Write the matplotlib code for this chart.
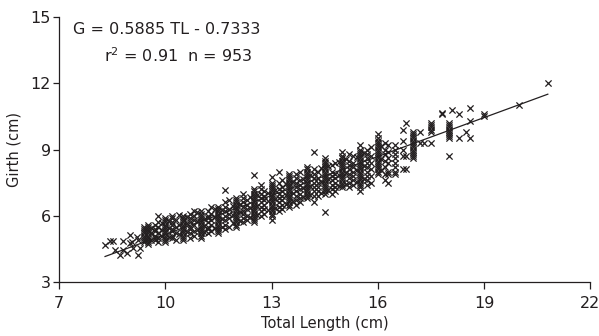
import matplotlib
matplotlib.use("Agg")
import matplotlib.pyplot as plt

# sparse small fish (length, girth)
small_tl = [8.3, 8.45, 8.53, 8.8, 9.0, 9.05, 9.24, 8.72, 8.93, 9.24, 9.29, 9.1, 8.82, 8.58, 9.0, 9.2]
small_g = [4.68, 4.85, 4.87, 4.87, 5.13, 4.83, 4.9, 4.22, 4.3, 4.22, 4.52, 4.52, 4.45, 4.45, 4.75, 5.05]

# lengths were mostly read to the half cm, so the points stack up in columns
col_tl = [9.4, 9.5, 9.6, 9.7, 9.8, 9.9, 10.0, 10.1, 10.2, 10.3, 10.4, 10.5, 10.6, 10.7, 10.8, 10.9,
          11.0, 11.1, 11.2, 11.3, 11.4, 11.5, 11.6, 11.7, 11.8, 11.9, 12.0, 12.1, 12.2, 12.3, 12.4, 12.5,
          12.6, 12.7, 12.8, 12.9, 13.0, 13.1, 13.2, 13.3, 13.4, 13.5, 13.6, 13.7, 13.8, 13.9, 14.0, 14.1, 14.2,
          14.3, 14.4, 14.5, 14.6, 14.7, 14.8, 14.9, 15.0, 15.1, 15.2, 15.3, 15.4, 15.5, 15.6, 15.7, 15.8,
          16.0, 16.1, 16.2, 16.3, 16.5, 16.7, 16.8, 17.0, 17.2, 17.3, 17.5,
          17.8, 18.0, 18.1, 18.3, 18.5, 18.6, 19.0, 20.0, 20.8]
col_g = [
    [4.8, 4.9, 5.0, 5.1, 5.2, 5.3, 5.4, 5.5],
    [4.7, 4.8, 4.9, 5.0, 5.1, 5.2, 5.3, 5.4, 5.5, 5.6],
    [4.9, 5.2, 5.45],
    [4.9, 5.0, 5.1, 5.3, 5.4, 5.6],
    [4.8, 5.0, 5.2, 5.5, 5.7, 6.0],
    [5.1, 5.35, 5.65],
    [4.8, 4.9, 5.0, 5.1, 5.2, 5.3, 5.4, 5.5, 5.6, 5.7, 5.8, 5.9],
    [5.05, 5.45, 5.75],
    [5.0, 5.1, 5.3, 5.4, 5.6, 5.7, 5.9, 6.0],
    [4.9, 5.2, 5.5, 5.8],
    [5.15, 5.6, 6.05],
    [4.9, 5.0, 5.1, 5.2, 5.3, 5.4, 5.5, 5.6, 5.7, 5.8, 5.9, 6.0],
    [5.25, 5.65, 5.95],
    [5.0, 5.2, 5.4, 5.5, 5.7, 5.9, 6.1],
    [5.1, 5.3, 5.6, 5.8, 6.0, 6.2],
    [5.35, 5.75, 6.15],
    [5.0, 5.1, 5.2, 5.3, 5.4, 5.5, 5.6, 5.7, 5.8, 5.9, 6.0, 6.1, 6.2],
    [5.25, 5.55, 5.85],
    [5.2, 5.4, 5.5, 5.7, 5.9, 6.0, 6.2],
    [5.3, 5.6, 5.8, 6.1, 6.4],
    [5.45, 5.95, 6.3],
    [5.2, 5.3, 5.4, 5.5, 5.6, 5.7, 5.8, 5.9, 6.0, 6.1, 6.2, 6.3, 6.4],
    [5.5, 5.85, 6.25],
    [5.4, 5.6, 5.8, 6.0, 6.2, 6.4, 6.6, 7.17],
    [5.5, 5.9, 6.1, 6.3, 6.7],
    [5.65, 6.05, 6.45],
    [5.5, 5.6, 5.7, 5.8, 5.9, 6.0, 6.1, 6.2, 6.3, 6.4, 6.5, 6.6, 6.7, 6.8],
    [5.75, 6.15, 6.55],
    [5.7, 5.9, 6.1, 6.2, 6.4, 6.6, 6.8, 7.0],
    [5.8, 6.0, 6.3, 6.5, 6.7],
    [5.95, 6.35, 6.85],
    [5.7, 5.8, 5.9, 6.0, 6.1, 6.2, 6.3, 6.4, 6.5, 6.6, 6.7, 6.8, 6.9, 7.0, 7.1, 7.2, 7.85],
    [6.05, 6.45, 6.95],
    [6.0, 6.2, 6.4, 6.6, 6.8, 7.0, 7.2, 7.4],
    [6.1, 6.3, 6.5, 6.7, 6.9, 7.1],
    [6.25, 6.65, 7.05],
    [5.8, 6.0, 6.1, 6.2, 6.3, 6.4, 6.5, 6.6, 6.7, 6.8, 6.9, 7.0, 7.1, 7.2, 7.3, 7.4, 7.5, 7.77],
    [6.35, 6.75, 7.15],
    [6.2, 6.4, 6.6, 6.8, 7.0, 7.2, 7.5, 8.0],
    [6.3, 6.5, 6.7, 6.9, 7.1, 7.3, 7.6],
    [6.55, 6.95, 7.45],
    [6.4, 6.5, 6.6, 6.7, 6.8, 6.9, 7.0, 7.1, 7.2, 7.3, 7.4, 7.5, 7.6, 7.7, 7.8, 7.9],
    [6.65, 7.05, 7.55],
    [6.5, 6.7, 6.9, 7.1, 7.3, 7.5, 7.7, 7.9],
    [6.6, 6.8, 7.0, 7.2, 7.4, 7.6, 8.0],
    [6.85, 7.25, 7.65],
    [6.8, 6.9, 7.0, 7.1, 7.2, 7.3, 7.4, 7.5, 7.6, 7.7, 7.8, 7.9, 8.0, 8.1, 8.2],
    [6.95, 7.35, 7.85],
    [6.64, 6.9, 7.1, 7.3, 7.5, 7.7, 7.9, 8.1, 8.9],
    [6.9, 7.1, 7.3, 7.5, 7.7, 8.0],
    [7.05, 7.55, 8.15],
    [6.18, 7.0, 7.1, 7.2, 7.3, 7.4, 7.5, 7.6, 7.7, 7.8, 7.9, 8.0, 8.1, 8.2, 8.3, 8.4, 8.5, 8.6],
    [7.15, 7.65, 8.25],
    [7.0, 7.2, 7.4, 7.6, 7.8, 8.0, 8.3],
    [7.1, 7.3, 7.5, 7.7, 7.9, 8.4],
    [7.35, 7.85, 8.45],
    [7.3, 7.4, 7.5, 7.6, 7.7, 7.8, 7.9, 8.0, 8.1, 8.2, 8.3, 8.4, 8.5, 8.6, 8.7, 8.9],
    [7.45, 7.95, 8.55],
    [7.3, 7.5, 7.7, 7.9, 8.1, 8.3, 8.5, 8.8],
    [7.4, 7.6, 7.8, 8.0, 8.2, 8.4, 8.7],
    [7.55, 8.05, 8.65],
    [7.1, 7.3, 7.4, 7.5, 7.6, 7.7, 7.8, 7.9, 8.0, 8.1, 8.2, 8.3, 8.4, 8.5, 8.6, 8.7, 8.8, 8.9, 9.0, 9.2],
    [7.65, 8.25, 8.85],
    [7.4, 7.6, 7.8, 8.0, 8.2, 8.4, 8.6, 8.8, 9.0],
    [7.5, 7.8, 8.1, 8.4, 8.7, 9.1],
    [7.9, 8.0, 8.1, 8.2, 8.3, 8.4, 8.5, 8.6, 8.7, 8.8, 8.9, 9.0, 9.1, 9.2, 9.3, 9.4, 9.5, 9.7],
    [8.05, 8.55, 9.15],
    [7.6, 7.9, 8.2, 8.5, 8.8, 9.0, 9.3],
    [7.5, 7.9, 8.0, 8.4, 8.6, 8.9, 9.2],
    [7.9, 8.0, 8.2, 8.4, 8.6, 8.8, 9.0, 9.2],
    [8.1, 8.7, 9.0, 9.4, 9.9],
    [8.1, 8.7, 10.2],
    [8.6, 8.7, 8.8, 8.9, 9.0, 9.1, 9.2, 9.3, 9.4, 9.5, 9.6, 9.7, 9.8],
    [9.3, 9.8],
    [9.3],
    [9.3, 9.8, 9.9, 10.0, 10.1, 10.2],
    [10.6, 10.64],
    [8.7, 9.5, 9.6, 9.7, 9.8, 9.9, 10.0, 10.1, 10.2],
    [10.8],
    [9.5, 10.6],
    [9.8],
    [9.5, 10.3, 10.9],
    [10.5, 10.6],
    [11.0],
    [12.0],
]

slope = 0.5885
intercept = -0.7333
fit_tl = [8.3, 20.8]

ink = "#231f20"

tl = list(small_tl)
girth = list(small_g)
for x, gs in zip(col_tl, col_g):
    for g in gs:
        tl.append(x)
        girth.append(g)

fig = plt.figure(figsize=(5.99, 3.36), dpi=100)
ax = fig.add_axes([0.0985, 0.161, 0.887, 0.788])

ax.scatter(tl, girth, marker="x", s=20, linewidths=0.9, color=ink, zorder=2)
ax.plot(fit_tl, [slope * x + intercept for x in fit_tl], color=ink, lw=0.9, zorder=3)

ax.set_xlim(7, 22)
ax.set_ylim(3, 15)
ax.set_xticks([7, 10, 13, 16, 19, 22])
ax.set_yticks([3, 6, 9, 12, 15])
ax.tick_params(direction="out", length=4, width=0.9, colors=ink, labelsize=11.5, pad=2)
ax.tick_params(axis="x", length=5, pad=5)
for side in ["top", "right"]:
    ax.spines[side].set_visible(False)
for side in ["left", "bottom"]:
    ax.spines[side].set_color(ink)
    ax.spines[side].set_linewidth(0.9)

ax.set_xlabel("Total Length (cm)", fontsize=10.5, color=ink, labelpad=4)
ax.set_ylabel("Girth (cm)", fontsize=10.5, color=ink, labelpad=6)

ax.text(0.027, 0.955, "G = 0.5885 TL - 0.7333", transform=ax.transAxes,
        fontsize=11.5, color=ink, va="center", ha="left")
ax.text(0.225, 0.855, "r$^2$ = 0.91  n = 953", transform=ax.transAxes,
        fontsize=11.5, color=ink, va="center", ha="center")

fig.savefig("out.png", dpi=100)
